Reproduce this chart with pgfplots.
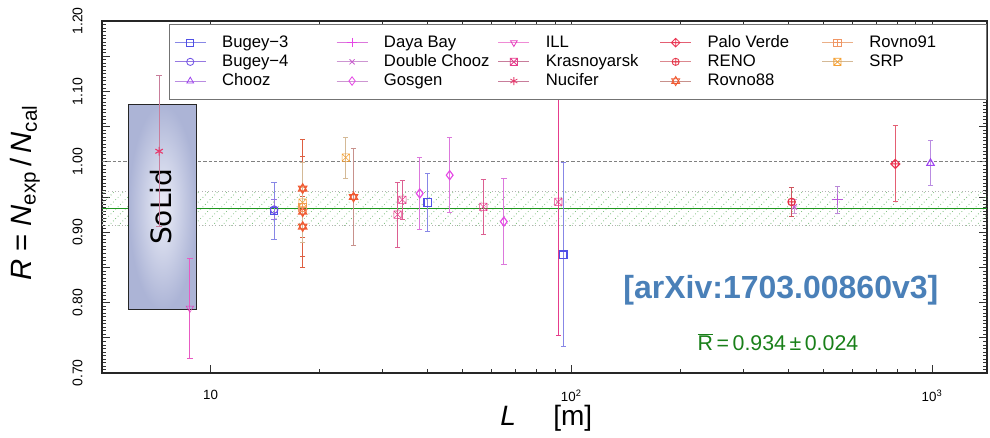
\documentclass[border=0pt]{standalone}
\usepackage{fontspec}
\setmainfont{Liberation Sans}
\newfontfamily\solidfont{DejaVu Sans}
\usepackage{pgfplots}
\pgfplotsset{compat=1.18}
\usetikzlibrary{patterns, patterns.meta, plotmarks}

% extra plot marks
\pgfdeclareplotmark{boxtimes}{%
  \pgfpathrectangle{\pgfqpoint{-\pgfplotmarksize}{-\pgfplotmarksize}}{\pgfqpoint{2\pgfplotmarksize}{2\pgfplotmarksize}}%
  \pgfpathmoveto{\pgfqpoint{-\pgfplotmarksize}{-\pgfplotmarksize}}\pgfpathlineto{\pgfqpoint{\pgfplotmarksize}{\pgfplotmarksize}}%
  \pgfpathmoveto{\pgfqpoint{-\pgfplotmarksize}{\pgfplotmarksize}}\pgfpathlineto{\pgfqpoint{\pgfplotmarksize}{-\pgfplotmarksize}}%
  \pgfusepathqstroke}
\pgfdeclareplotmark{boxplus}{%
  \pgfpathrectangle{\pgfqpoint{-\pgfplotmarksize}{-\pgfplotmarksize}}{\pgfqpoint{2\pgfplotmarksize}{2\pgfplotmarksize}}%
  \pgfpathmoveto{\pgfqpoint{0pt}{-\pgfplotmarksize}}\pgfpathlineto{\pgfqpoint{0pt}{\pgfplotmarksize}}%
  \pgfpathmoveto{\pgfqpoint{-\pgfplotmarksize}{0pt}}\pgfpathlineto{\pgfqpoint{\pgfplotmarksize}{0pt}}%
  \pgfusepathqstroke}
\pgfdeclareplotmark{diamondplus}{%
  \pgfpathmoveto{\pgfqpoint{0pt}{1.2\pgfplotmarksize}}\pgfpathlineto{\pgfqpoint{1.2\pgfplotmarksize}{0pt}}%
  \pgfpathlineto{\pgfqpoint{0pt}{-1.2\pgfplotmarksize}}\pgfpathlineto{\pgfqpoint{-1.2\pgfplotmarksize}{0pt}}\pgfpathclose
  \pgfpathmoveto{\pgfqpoint{0pt}{-1.2\pgfplotmarksize}}\pgfpathlineto{\pgfqpoint{0pt}{1.2\pgfplotmarksize}}%
  \pgfpathmoveto{\pgfqpoint{-1.2\pgfplotmarksize}{0pt}}\pgfpathlineto{\pgfqpoint{1.2\pgfplotmarksize}{0pt}}%
  \pgfusepathqstroke}
\pgfdeclareplotmark{davidstar}{%
  \pgfpathmoveto{\pgfqpoint{0pt}{1.2\pgfplotmarksize}}\pgfpathlineto{\pgfqpoint{1.04\pgfplotmarksize}{-0.6\pgfplotmarksize}}%
  \pgfpathlineto{\pgfqpoint{-1.04\pgfplotmarksize}{-0.6\pgfplotmarksize}}\pgfpathclose
  \pgfpathmoveto{\pgfqpoint{0pt}{-1.2\pgfplotmarksize}}\pgfpathlineto{\pgfqpoint{1.04\pgfplotmarksize}{0.6\pgfplotmarksize}}%
  \pgfpathlineto{\pgfqpoint{-1.04\pgfplotmarksize}{0.6\pgfplotmarksize}}\pgfpathclose
  \pgfusepathqstroke}

% marker / error bar colours
\definecolor{cB3}{RGB}{80,80,230}    \definecolor{cB3e}{RGB}{135,135,230}
\definecolor{cB4}{RGB}{110,80,230}   \definecolor{cB4e}{RGB}{150,120,225}
\definecolor{cCh}{RGB}{160,70,240}   \definecolor{cChe}{RGB}{185,140,225}
\definecolor{cDB}{RGB}{185,90,215}   \definecolor{cDBe}{RGB}{185,135,215}
\definecolor{cDC}{RGB}{200,90,205}   \definecolor{cDCe}{RGB}{205,150,210}
\definecolor{cGo}{RGB}{230,70,230}   \definecolor{cGoe}{RGB}{220,120,220}
\definecolor{cIL}{RGB}{230,60,190}   \definecolor{cILe}{RGB}{232,90,195}
\definecolor{cKr}{RGB}{230,60,140}   \definecolor{cKre}{RGB}{220,95,145}
\definecolor{cNu}{RGB}{230,60,110}   \definecolor{cNue}{RGB}{200,125,155}
\definecolor{cPV}{RGB}{235,50,80}    \definecolor{cPVe}{RGB}{228,95,115}
\definecolor{cRE}{RGB}{230,50,70}    \definecolor{cREe}{RGB}{205,85,95}
\definecolor{cR88}{RGB}{240,90,50}   \definecolor{cR88e}{RGB}{222,95,65}
\definecolor{cR88f}{RGB}{200,145,140}
\definecolor{cR91}{RGB}{240,150,100} \definecolor{cR91e}{RGB}{235,175,135}
\definecolor{cSR}{RGB}{245,160,50}   \definecolor{cSRe}{RGB}{212,185,150}
\definecolor{arxivblue}{RGB}{74,128,184}
\definecolor{rgreen}{RGB}{30,150,30}
\definecolor{hatchgreen}{RGB}{105,180,105}

\pgfplotsset{
  pt/.style 2 args={only marks, forget plot, mark=#1, color=#2, mark size=2.8pt,
    mark options={solid, line width=0.85pt}},
  eb/.style={error bars/.cd, y dir=both, y explicit,
    error bar style={color=#1, line width=0.8pt},
    error mark options={rotate=90, color=#1, line width=0.7pt, mark size=2pt},
    /pgfplots/.cd},
}

\begin{document}
\begin{tikzpicture}
\begin{axis}[
  scale only axis,
  width=663.75pt, height=264pt,
  xmode=log, xmin=5, xmax=1420,
  ymin=0.70, ymax=1.20,
  xtick={10,100,1000},
  xticklabels={10,10\textsuperscript{2},10\textsuperscript{3}},
  ytick={0.70,0.75,0.80,0.85,0.90,0.95,1.00,1.05,1.10,1.15,1.20},
  yticklabels={0.70,,0.80,,0.90,,1.00,,1.10,,1.20},
  minor y tick num=9,
  tick align=inside,
  major tick length=6pt, minor tick length=3pt,
  tick style={black!80, line width=0.5pt},
  axis line style={black!85, line width=0.8pt},
  xticklabel style={font=\fontsize{10}{12}\selectfont, yshift=-9pt},
  yticklabel style={font=\fontsize{10.5}{12}\selectfont, xshift=-11pt, rotate=90, anchor=south},
  xlabel={\textit{L}\hspace{28pt}[m]},
  xlabel style={font=\fontsize{21}{24}\selectfont, at={(axis description cs:0.502,-0.128)}, anchor=center},
  ylabel={\textit{R} = \textit{N}\textsubscript{exp}\,/\,\textit{N}\textsubscript{cal}},
  ylabel style={font=\fontsize{22}{24}\selectfont, at={(axis description cs:-0.087,0.511)}, anchor=center},
  legend image code/.code={\draw[mark repeat=2, mark phase=2, #1] plot coordinates {(0pt,0pt) (11.6pt,0pt) (23.25pt,0pt)};},
  legend columns=5,
  legend cell align=left,
  legend style={at={(axis description cs:0.0757,0.9915)}, anchor=north west,
    draw=black!55, fill=white, line width=0.6pt,
    font=\fontsize{12.5}{14}\selectfont,
    inner xsep=3.75pt, inner ysep=6.5pt,
    nodes={inner xsep=0pt, inner ysep=1.2pt, text height=9.5pt, text depth=2.5pt},
    /tikz/every odd column/.append style={column sep=12pt},
    /tikz/every even column/.append style={column sep=1.5pt}},
]

% band of the mean ratio
\addplot[forget plot, draw=black!30, dotted, line width=0.5pt,
  pattern={Lines[angle=45, distance=5pt, line width=0.6pt]}, pattern color=hatchgreen]
  coordinates {(5,0.910) (1420,0.910) (1420,0.958) (5,0.958) (5,0.910)};
\addplot[forget plot, rgreen, line width=1.1pt] coordinates {(5,0.934) (1420,0.934)};
\addplot[forget plot, black!50, line width=0.7pt, dash pattern=on 2.5pt off 1.5pt] coordinates {(5,1.0) (1420,1.0)};

% SoLid box
\addplot[forget plot, draw=black!85, line width=0.8pt, inner color={rgb,255:red,236;green,238;blue,248}, outer color={rgb,255:red,172;green,180;blue,214}]
  coordinates {(5.93,0.790) (9.13,0.790) (9.13,1.081) (5.93,1.081) (5.93,0.790)};
\node[rotate=90, font=\solidfont\fontsize{21}{21}\selectfont] at (axis cs:7.3,0.936) {SoLid};

% data
\addplot[pt={square}{cB3}, eb=cB3e] coordinates {(15,0.930) +- (0,0.040) (40,0.942) +- (0,0.041) (95,0.868) +- (0,0.131)};
\addplot[pt={o}{cB4}, eb=cB4e] coordinates {(15,0.932) +- (0,0.014)};
\addplot[pt={triangle}{cCh}, mark size=3.2pt, eb=cChe] coordinates {(990,0.998) +- (0,0.032)};
\addplot[pt={+}{cDB}, mark size=3.8pt, eb=cDBe] coordinates {(547,0.946) +- (0,0.019)};
\addplot[pt={x}{cDC}, eb=cDCe] coordinates {(415,0.936) +- (0,0.010)};
\addplot[pt={diamond}{cGo}, mark size=3.4pt, eb=cGoe] coordinates {(38,0.955) +- (0,0.051) (46,0.981) +- (0,0.053) (65,0.915) +- (0,0.061)};
\addplot[pt={triangle}{cIL}, mark size=3.2pt, mark options={rotate=180}, eb=cILe] coordinates {(8.76,0.792) +- (0,0.071)};
\addplot[pt={boxtimes}{cKr}, mark options={fill=cKr!35}, eb=cKre] coordinates {(33,0.925) +- (0,0.046) (34,0.946) +- (0,0.028) (57,0.936) +- (0,0.039)};
\addplot[pt={boxtimes}{cKr}, mark options={fill=cKr!35}, eb=cKr] coordinates {(92,0.943) +- (0,0.190)};
\addplot[pt={asterisk}{cNu}, mark size=3.2pt, eb=cNue] coordinates {(7.2,1.015) +- (0,0.107)};
\addplot[pt={diamondplus}{cPV}, eb=cPVe] coordinates {(791,0.997) +- (0,0.054)};
\addplot[pt={oplus}{cRE}, eb=cREe] coordinates {(408,0.943) +- (0,0.021)};
\addplot[pt={davidstar}{cR88}, mark size=3pt, eb=cR88e] coordinates {(18,0.962) +- (0,0.070) (18,0.929) +- (0,0.079) (18,0.908) +- (0,0.043)};
\addplot[pt={davidstar}{cR88}, mark size=3pt, eb=cR88f] coordinates {(24.9,0.950) +- (0,0.069)};
\addplot[pt={boxplus}{cR91}, eb=cR91e] coordinates {(18,0.935) +- (0,0.029)};
\addplot[pt={boxtimes}{cSR}, mark options={fill=cSR!40}, eb=cSRe] coordinates {(18,0.942) +- (0,0.057) (23.7,1.006) +- (0,0.029)};

% annotations
\node[text=arxivblue, font=\bfseries\fontsize{24}{26}\selectfont] at (axis cs:381,0.818) {[arXiv:1703.00860v3]};
\node[text=rgreen!85!black, font=\fontsize{16}{18}\selectfont] at (axis cs:374,0.744) {$\overline{\mbox{R}}$\,=\,0.934\,±\,0.024};

% legend, filled row by row to read column by column
\addlegendimage{color=cB3e, mark=square, mark size=2.7pt, mark options={draw=cB3, solid}}
\addlegendentry{\makebox[84pt][l]{Bugey−3}}
\addlegendimage{color=cGoe, mark=+, mark size=3.5pt, mark options={draw=cGo, solid}}
\addlegendentry{\makebox[84pt][l]{Daya Bay}}
\addlegendimage{color=cILe!70, mark=triangle, mark size=2.9pt, mark options={draw=cIL, solid, rotate=180}}
\addlegendentry{\makebox[84pt][l]{ILL}}
\addlegendimage{color=cPVe, mark=diamondplus, mark size=2.7pt, mark options={draw=cPV, solid}}
\addlegendentry{\makebox[84pt][l]{Palo Verde}}
\addlegendimage{color=cR91e, mark=boxplus, mark size=2.7pt, mark options={draw=cR91, solid}}
\addlegendentry{\makebox[84pt][l]{Rovno91}}
\addlegendimage{color=cB4e, mark=o, mark size=2.7pt, mark options={draw=cB4, solid}}
\addlegendentry{\makebox[84pt][l]{Bugey−4}}
\addlegendimage{color=cDCe, mark=x, mark size=2.7pt, mark options={draw=cDC, solid}}
\addlegendentry{\makebox[84pt][l]{Double Chooz}}
\addlegendimage{color=cNue, mark=boxtimes, mark size=2.7pt, mark options={draw=cKr, fill=cKr!35, solid}}
\addlegendentry{\makebox[84pt][l]{Krasnoyarsk}}
\addlegendimage{color=cREe!70, mark=oplus, mark size=2.7pt, mark options={draw=cRE, solid}}
\addlegendentry{\makebox[84pt][l]{RENO}}
\addlegendimage{color=cSRe, mark=boxtimes, mark size=2.7pt, mark options={draw=cSR, fill=cSR!40, solid}}
\addlegendentry{\makebox[84pt][l]{SRP}}
\addlegendimage{color=cChe, mark=triangle, mark size=2.9pt, mark options={draw=cCh, solid}}
\addlegendentry{\makebox[84pt][l]{Chooz}}
\addlegendimage{color=cDCe, mark=diamond, mark size=3.2pt, mark options={draw=cGo, solid}}
\addlegendentry{\makebox[84pt][l]{Gosgen}}
\addlegendimage{color=cNue, mark=asterisk, mark size=3pt, mark options={draw=cNu, solid}}
\addlegendentry{\makebox[84pt][l]{Nucifer}}
\addlegendimage{color=cR88f, mark=davidstar, mark size=2.9pt, mark options={draw=cR88, solid}}
\addlegendentry{\makebox[84pt][l]{Rovno88}}
\end{axis}
\pgfresetboundingbox
\path[use as bounding box] ([xshift=-76.5pt,yshift=-48.75pt]current axis.south west) rectangle ([xshift=2.25pt,yshift=15.75pt]current axis.north east);
\end{tikzpicture}
\end{document}
